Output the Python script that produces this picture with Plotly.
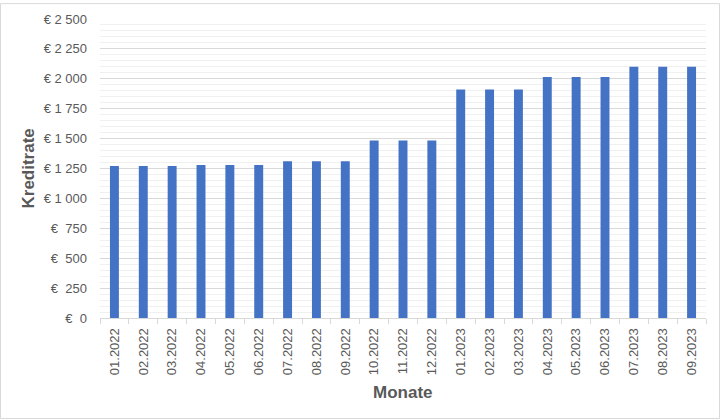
import plotly.graph_objects as go

months = ["01.2022", "02.2022", "03.2022", "04.2022", "05.2022", "06.2022",
          "07.2022", "08.2022", "09.2022", "10.2022", "11.2022", "12.2022",
          "01.2023", "02.2023", "03.2023", "04.2023", "05.2023", "06.2023",
          "07.2023", "08.2023", "09.2023"]
rates = [1270, 1270, 1270, 1280, 1280, 1280, 1310, 1310, 1310,
         1485, 1485, 1485, 1910, 1910, 1910, 2015, 2015, 2015,
         2100, 2100, 2100]
y_ticks = [0, 250, 500, 750, 1000, 1250, 1500, 1750, 2000, 2250, 2500]
y_tick_labels = ["€\u00a0 0", "€\u00a0 250", "€\u00a0 500", "€\u00a0 750",
                 "€ 1\u00a0000", "€ 1\u00a0250", "€ 1\u00a0500", "€ 1\u00a0750",
                 "€ 2\u00a0000", "€ 2\u00a0250", "€ 2\u00a0500"]

FONT = "Liberation Sans, Arial, sans-serif"
GREY = "#595959"

fig = go.Figure(go.Bar(x=months, y=rates, marker=dict(color="#4472C4", line=dict(width=0))))

W, H = 720, 420
L, R, T, B = 100, 14, 16, 102
pw, ph = W - L - R, H - T - B

fig.update_layout(
    width=W, height=H,
    margin=dict(l=L, r=R, t=T, b=B, pad=0),
    paper_bgcolor="white", plot_bgcolor="white",
    bargap=0.69,
    showlegend=False,
    font=dict(family=FONT, size=13, color=GREY),
    xaxis=dict(
        type="category",
        tickangle=-90,
        ticks="outside", tickson="boundaries", ticklen=5, tickcolor="#d9d9d9",
        showline=True, linecolor="#d9d9d9", linewidth=1,
        showgrid=False,
        ticklabelstandoff=4,
        tickfont=dict(family=FONT, size=13, color=GREY),
    ),
    yaxis=dict(
        range=[0, 2500],
        tickvals=y_ticks, ticktext=y_tick_labels,
        showgrid=True, gridcolor="#d9d9d9", gridwidth=1,
        zeroline=False, showline=False, ticks="",
        ticklabelstandoff=12,
        minor=dict(dtick=50, showgrid=True, gridcolor="#f0f0f0", gridwidth=1),
        tickfont=dict(family=FONT, size=13, color=GREY),
    ),
    annotations=[
        dict(text="<b>Kreditrate</b>", xref="paper", yref="paper",
             x=(28 - L) / pw, y=(H - B - 167) / ph, xanchor="center", yanchor="middle",
             textangle=-90, showarrow=False, font=dict(family=FONT, size=17, color=GREY)),
        dict(text="<b>Monate</b>", xref="paper", yref="paper",
             x=(403 - L) / pw, y=(H - B - 393) / ph, xanchor="center", yanchor="middle",
             showarrow=False, font=dict(family=FONT, size=17, color=GREY)),
    ],
    shapes=[
        dict(type="rect", xref="paper", yref="paper",
             x0=(0.5 - L) / pw, x1=(W - 0.5 - L) / pw,
             y0=(H - B - (H - 0.5)) / ph, y1=(H - B - 0.5) / ph,
             line=dict(color="#d9d9d9", width=1), fillcolor="rgba(0,0,0,0)", layer="above"),
    ],
)

fig.write_html("out.html",
               config={"displayModeBar": False},
               post_script="document.body.style.margin='0px';document.body.style.overflow='hidden';")
